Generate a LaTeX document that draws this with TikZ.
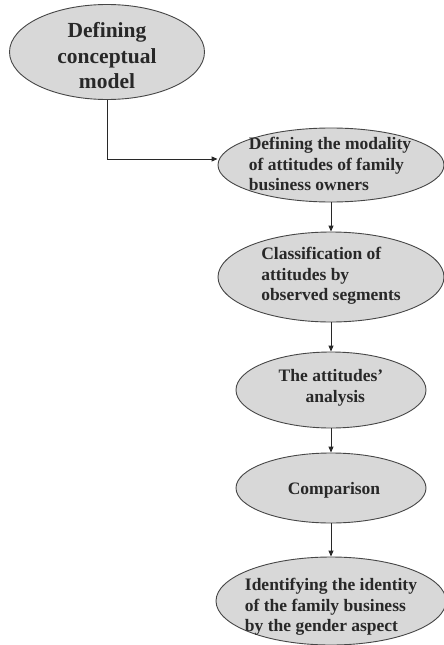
\documentclass[tikz,border=0pt]{standalone}
\usepackage{fontspec}
\setmainfont{Liberation Serif}
\usetikzlibrary{shapes.geometric,arrows.meta}
\definecolor{bubblefill}{RGB}{216,216,216}
\definecolor{bubbleline}{RGB}{70,70,70}
\definecolor{inkgray}{RGB}{40,40,40}
\tikzset{
  bubble/.style={ellipse, draw=bubbleline, line width=0.9pt, fill=bubblefill, inner sep=0pt},
  bigtxt/.style={text=inkgray, font=\fontsize{21.5}{25.5}\selectfont\bfseries, align=center, inner sep=0pt},
  txt/.style={text=inkgray, font=\fontsize{17.5}{20.5}\selectfont\bfseries, align=left, inner sep=0pt},
  ctxt/.style={text=inkgray, font=\fontsize{17.5}{21}\selectfont\bfseries, align=center, inner sep=0pt},
  link/.style={draw=inkgray, line width=0.9pt, -{Triangle[length=6pt,width=5pt]}}
}
\begin{document}
\begin{tikzpicture}[x=1pt,y=-1pt]
\useasboundingbox[fill=white] (0,0) rectangle (444,645);
% ellipses
\node[bubble, minimum width=195pt, minimum height=95pt] (e1) at (107,52) {};
\node[bubble, minimum width=226pt, minimum height=74pt] (e2) at (331,165) {};
\node[bubble, minimum width=226pt, minimum height=90pt] (e3) at (331,277) {};
\node[bubble, minimum width=190pt, minimum height=76pt] (e4) at (331,390) {};
\node[bubble, minimum width=190pt, minimum height=70pt] (e5) at (331,488) {};
\node[bubble, minimum width=230pt, minimum height=88pt] (e6) at (331,601) {};
% texts
\node[bigtxt] (t1) at (107,56) {Defining\\conceptual\\model};
\node[txt] (t2) at (330,164) {Defining the modality\\of attitudes of family\\business owners};
\node[txt] (t3) at (331,276) {Classification of\\attitudes by\\observed segments};
\node[ctxt] (t4) at (331,388) {The attitudes'\\\ \ analysis};
\node[ctxt] (t5) at (334,490) {Comparison};
\node[txt] (t6) at (331,607) {Identifying the identity\\of the family business\\by the gender aspect};
% connectors
\coordinate (elbow) at (107,159);
\draw[link] (e1.south) -- (elbow) -- (e2.west |- elbow);
\draw[link] (e2.south) -- (e3.north);
\draw[link] (e3.south) -- (e4.north);
\draw[link] (e4.south) -- (e5.north);
\draw[link] (e5.south) -- (e6.north);
\end{tikzpicture}
\end{document}
